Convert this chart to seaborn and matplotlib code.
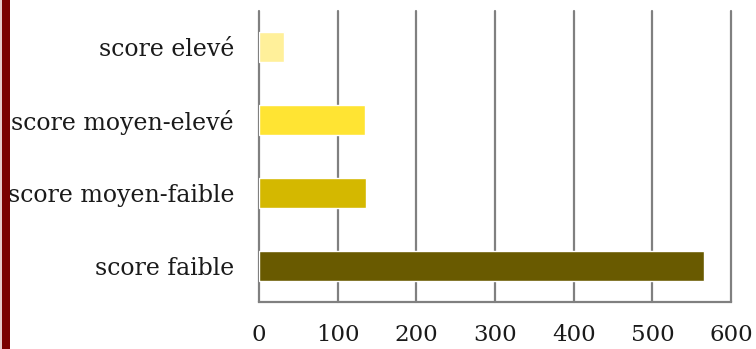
import matplotlib
matplotlib.use("Agg")
import matplotlib.pyplot as plt
import matplotlib.patches as mpatches
import seaborn as sns
import pandas as pd

categories = ["score elevé", "score moyen-elevé", "score moyen-faible", "score faible"]
values = [32, 135, 136, 565]
colors = ["#FFF09A", "#FFE433", "#D4B800", "#695A00"]
xticks = [0, 100, 200, 300, 400, 500, 600]

sns.set_theme(style="white")
plt.rcParams["font.family"] = ["DejaVu Serif"]

df = pd.DataFrame({"categorie": categories, "valeur": values})

fig = plt.figure(figsize=(7.56, 3.49), dpi=100)
ax = fig.add_axes([0.3426, 0.1347, 0.967 - 0.3426, 0.9685 - 0.1347])

sns.barplot(data=df, x="valeur", y="categorie", hue="categorie",
            palette=colors, order=categories, orient="h", width=0.41,
            legend=False, ax=ax, saturation=1)

ax.set_xlim(0, 600)
ax.set_ylim(3.5, -0.5)
ax.set_xticks(xticks)
ax.set_xticklabels([str(t) for t in xticks])
ax.set_xlabel("")
ax.set_ylabel("")

# vertical grid at each tick, behind the bars
ax.set_axisbelow(True)
ax.xaxis.grid(True, color="#808080", linewidth=1.6)
ax.yaxis.grid(False)
for gl in ax.get_xgridlines():
    gl.set_clip_on(False)

for side in ["top", "left", "right"]:
    ax.spines[side].set_visible(False)
ax.spines["bottom"].set_color("#808080")
ax.spines["bottom"].set_linewidth(1.6)
ax.spines["bottom"].set_capstyle("projecting")

ax.tick_params(axis="both", length=0, colors="#1a1a1a")
ax.tick_params(axis="y", labelsize=17, pad=18)
ax.tick_params(axis="x", labelsize=16.5, pad=16)

# dark red strip along the left edge of the figure
fig.patches.append(mpatches.Rectangle((0, 0), 2 / 756, 1, transform=fig.transFigure,
                                      facecolor="#E6CACA", edgecolor="none", zorder=10))
fig.patches.append(mpatches.Rectangle((2 / 756, 0), 8 / 756, 1, transform=fig.transFigure,
                                      facecolor="#7A0000", edgecolor="none", zorder=10))

fig.savefig("out.png", dpi=100)
